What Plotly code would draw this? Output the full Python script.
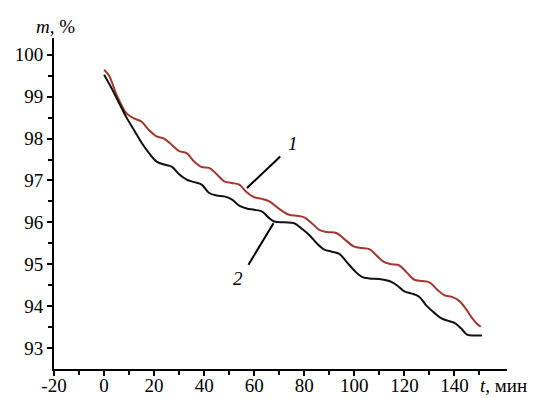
import plotly.graph_objects as go

# Curve 1 (red) : time, min / mass, %
t1 = [0, 2, 5, 9, 12, 15, 18, 21, 24, 27, 30, 33, 36, 39, 42, 45, 48, 51, 54, 57, 60, 63, 66,
      70, 74, 77, 80, 83, 86, 89, 93, 96, 100, 103, 106, 109, 112, 115, 118, 121, 124, 127,
      130, 133, 136, 139, 142, 145, 147, 149, 150.5]
m1 = [99.64, 99.5, 99.05, 98.6, 98.48, 98.4, 98.2, 98.05, 98.0, 97.85, 97.7, 97.65, 97.45,
      97.32, 97.3, 97.15, 96.98, 96.94, 96.9, 96.72, 96.6, 96.56, 96.5, 96.32, 96.18, 96.16,
      96.12, 95.98, 95.82, 95.77, 95.74, 95.6, 95.42, 95.39, 95.36, 95.2, 95.05, 95.0, 94.97,
      94.8, 94.63, 94.6, 94.57, 94.4, 94.26, 94.22, 94.12, 93.9, 93.72, 93.58, 93.51]

# Curve 2 (black)
t2 = [0, 3, 6, 9, 12, 15, 18, 21, 24, 27, 30, 33, 36, 39, 42, 45, 48, 51, 54, 57, 60, 63, 66,
      68, 72, 76, 79, 82, 85, 88, 91, 94, 97, 100, 103, 106, 110, 114, 117, 120, 123, 126,
      129, 132, 135, 138, 140, 143, 145, 148, 151]
m2 = [99.52, 99.2, 98.85, 98.5, 98.2, 97.9, 97.65, 97.45, 97.38, 97.33, 97.15, 97.02, 96.96,
      96.9, 96.7, 96.64, 96.62, 96.55, 96.4, 96.33, 96.3, 96.26, 96.1, 96.02, 96.0, 95.98,
      95.85, 95.7, 95.5, 95.35, 95.3, 95.25, 95.05, 94.85, 94.7, 94.66, 94.65, 94.6, 94.5,
      94.35, 94.3, 94.22, 94.0, 93.84, 93.7, 93.64, 93.6, 93.45, 93.32, 93.3, 93.3]

x_ticks = [-20, 0, 20, 40, 60, 80, 100, 120, 140]
x_labels = ["-20", "0", "20", "40", "60", "80", "100", "120", "140"]
x_minor = [-10, 10, 30, 50, 70, 90, 110, 130, 150]
y_ticks = [93, 94, 95, 96, 97, 98, 99, 100]
y_minor = [93.5, 94.5, 95.5, 96.5, 97.5, 98.5, 99.5]

FONT = "Liberation Serif"

fig = go.Figure()
fig.add_trace(go.Scatter(x=t1, y=m1, mode="lines",
                         line=dict(color="#a3382e", width=2, shape="spline", smoothing=1.0),
                         showlegend=False, hoverinfo="skip"))
fig.add_trace(go.Scatter(x=t2, y=m2, mode="lines",
                         line=dict(color="#111111", width=2, shape="spline", smoothing=1.0),
                         showlegend=False, hoverinfo="skip"))

# leader lines
fig.add_shape(type="line", x0=57.1, y0=96.82, x1=70.4, y1=97.57,
              line=dict(color="black", width=2))
fig.add_shape(type="line", x0=67.7, y0=95.98, x1=57.7, y1=94.99,
              line=dict(color="black", width=2))

fig.add_annotation(x=75.3, y=97.88, text="<i>1</i>", showarrow=False,
                   font=dict(family=FONT, size=19, color="black"))
fig.add_annotation(x=53.4, y=94.66, text="<i>2</i>", showarrow=False,
                   font=dict(family=FONT, size=19, color="black"))

fig.add_annotation(xref="paper", yref="paper", x=-0.045, y=1.035, xanchor="left",
                   yanchor="middle", text="<i>m</i>, %", showarrow=False,
                   font=dict(family=FONT, size=19, color="black"))
fig.add_annotation(xref="paper", yref="paper", x=0.935, y=-0.05, xanchor="left",
                   yanchor="middle", text="<i>t</i>, мин", showarrow=False,
                   font=dict(family=FONT, size=19, color="black"))

fig.update_layout(
    width=536, height=398,
    margin=dict(l=54, r=29, t=38, b=29, autoexpand=False),
    plot_bgcolor="white", paper_bgcolor="white",
    font=dict(family=FONT, size=19, color="black"),
)
fig.update_xaxes(range=[-20, 161], tickvals=x_ticks, ticktext=x_labels, automargin=False,
                 showgrid=False, zeroline=False,
                 showline=True, linecolor="black", linewidth=2,
                 ticks="outside", ticklen=5, tickwidth=1.5, tickcolor="black",
                 ticklabelstandoff=-7,
                 minor=dict(tickvals=x_minor, ticks="outside", ticklen=4, tickwidth=1.5,
                            tickcolor="black", showgrid=False),
                 tickfont=dict(family=FONT, size=19))
fig.update_yaxes(range=[92.5, 100.4], tickvals=y_ticks, automargin=False,
                 showgrid=False, zeroline=False,
                 showline=True, linecolor="black", linewidth=2,
                 ticks="outside", ticklen=5, tickwidth=1.5, tickcolor="black",
                 minor=dict(tickvals=y_minor, ticks="outside", ticklen=4, tickwidth=1.5,
                            tickcolor="black", showgrid=False),
                 tickfont=dict(family=FONT, size=19))

fig.write_html("out.html")
